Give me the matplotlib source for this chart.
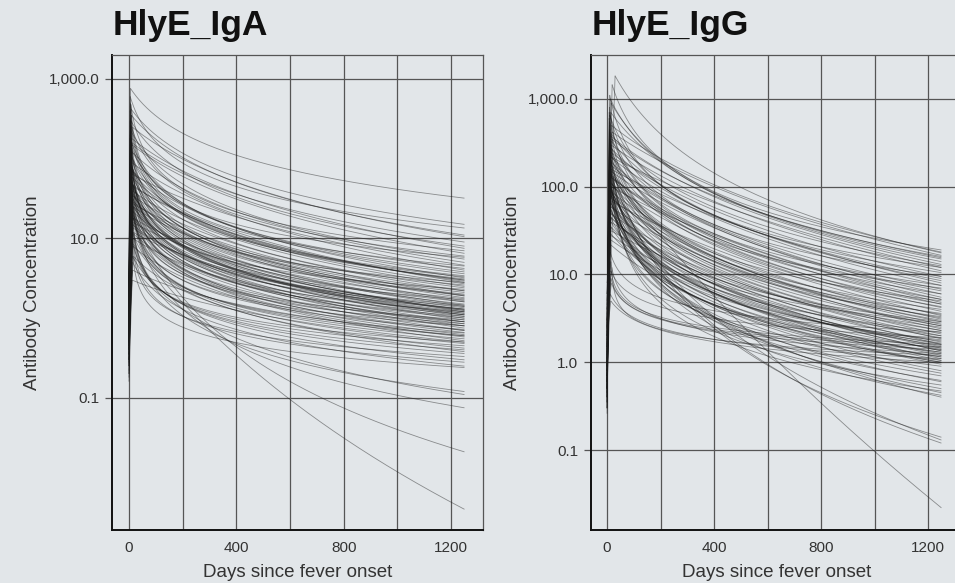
import numpy as np
import matplotlib.pyplot as plt
from matplotlib.ticker import FixedLocator, FuncFormatter

plt.rcParams['font.family'] = ['Liberation Sans', 'DejaVu Sans']

BG = '#e2e6e9'
GRID = '#555555'
T_END = 1250

# per-subject response curves: start level, day of peak, peak level,
# level at day 1250 and decay shape (r of the power-law decay)
iga_start = [2.0, 1.5, 3.0, 0.8, 1.2, 0.5, 2.5, 1.0, 0.6, 1.8, 0.4, 2.2, 0.9, 0.3, 1.4,
             0.7, 0.5, 1.1, 2.8, 0.25, 0.6, 1.6, 0.35, 0.8, 4.0, 0.45, 1.3, 0.2, 0.9, 0.55,
             2.0, 0.3, 1.7, 0.65, 0.4, 1.0, 0.75, 1.5, 0.18, 3.2, 0.5, 0.85, 0.28, 1.2, 0.6,
             0.35, 2.4, 0.42, 0.7, 0.22, 1.1, 0.5, 0.3, 1.9, 0.65, 0.9, 0.2, 1.4, 0.4, 0.55,
             0.8, 0.25, 0.45, 0.16, 1.0, 0.6, 0.3, 0.9, 0.4, 0.5, 0.7, 1.3, 0.5, 0.9, 0.35,
             1.8, 0.6, 2.6, 0.27, 0.8, 0.45, 1.5, 0.9, 0.6, 1.0,
             1.2, 0.6, 0.9, 0.4, 1.6, 0.3, 0.7, 1.1, 0.5, 2.1, 0.8, 0.45, 1.4, 0.6, 0.35,
             1.0, 0.55, 1.7, 0.25, 0.9, 0.4, 1.3, 0.6, 0.8, 0.5]
iga_peak_day = [6, 8, 5, 9, 12, 7, 10, 6, 11, 8, 13, 5, 10, 9, 7,
                12, 8, 14, 6, 9, 11, 7, 10, 15, 5, 8, 12, 16, 6, 10,
                9, 13, 5, 8, 11, 14, 7, 9, 12, 6, 10, 8, 13, 6, 9,
                15, 7, 11, 6, 12, 8, 10, 14, 5, 11, 7, 13, 9, 16, 10,
                7, 12, 9, 14, 8, 10, 12, 8, 9, 10, 9, 11, 8, 7, 12,
                10, 13, 6, 9, 11, 8, 14, 12, 10, 7,
                9, 11, 8, 10, 7, 12, 9, 6, 13, 8, 10, 14, 7, 11, 9,
                8, 12, 6, 10, 9, 11, 7, 13, 8, 10]
iga_peak = [760, 420, 600, 350, 250, 300, 180, 500, 150, 220, 120, 400, 90, 160, 260,
            70, 110, 45, 200, 80, 35, 140, 60, 25, 300, 95, 50, 18, 130, 40,
            75, 22, 180, 55, 30, 12, 100, 65, 15, 240, 38, 85, 20, 150, 45,
            10, 70, 28, 120, 16, 55, 35, 8, 200, 24, 90, 12, 45, 6, 30,
            65, 9, 20, 5, 40, 14, 6, 25, 20, 9, 60, 40, 28, 150, 50,
            110, 32, 90, 14, 75, 26, 4, 3, 350, 480,
            130, 70, 45, 100, 200, 35, 55, 80, 25, 260, 160, 18, 120, 48, 30,
            90, 22, 320, 12, 65, 38, 140, 16, 110, 28]
iga_end = [32, 15, 13.5, 11, 10.5, 8, 7.5, 7, 6.5, 5.5, 5, 4.5, 4, 3.6, 3.4,
           3.2, 3.0, 2.8, 2.6, 2.4, 2.2, 2.0, 1.9, 1.8, 1.7, 1.6, 1.5, 1.45, 1.4, 1.35,
           1.3, 1.25, 1.2, 1.15, 1.1, 1.1, 1.05, 1.0, 1.0, 0.95, 0.9, 0.9, 0.85, 0.8, 0.8,
           0.75, 0.72, 0.7, 0.65, 0.62, 0.6, 0.55, 0.52, 0.5, 0.48, 0.45, 0.42, 0.4, 0.38, 0.36,
           0.33, 0.3, 0.28, 0.25, 0.24, 0.12, 0.11, 0.075, 0.021, 0.004, 3.0, 2.5, 1.9, 4.2, 1.2,
           1.3, 1.15, 2.1, 0.95, 1.75, 0.66, 0.6, 0.5, 2.3, 5.8,
           3.8, 2.7, 1.6, 2.2, 3.3, 1.4, 1.25, 1.1, 1.05, 6.0, 9.0, 0.8, 0.85, 2.9, 1.65,
           1.95, 0.58, 2.8, 0.7, 4.6, 1.28, 1.45, 1.2, 3.1, 0.9]
iga_shape = [1.8, 1.7, 1.9, 1.6, 1.5, 1.7, 1.5, 2.0, 1.5, 1.7, 1.6, 2.1, 1.5, 1.8, 2.0,
             1.6, 1.8, 1.5, 2.1, 1.8, 1.6, 2.0, 1.8, 1.6, 2.3, 2.0, 1.9, 1.6, 2.2, 1.9,
             2.0, 1.7, 2.3, 2.0, 1.8, 1.6, 2.2, 2.1, 1.7, 2.4, 2.0, 2.2, 1.8, 2.4, 2.1,
             1.6, 2.3, 2.0, 2.4, 1.9, 2.3, 2.2, 1.7, 2.6, 2.1, 2.5, 2.0, 2.4, 1.8, 2.3,
             2.6, 2.1, 2.4, 2.0, 2.6, 1.8, 1.6, 1.6, 1.3, 1.12, 1.7, 1.6, 1.5, 1.9, 1.9,
             2.2, 1.8, 1.9, 1.6, 2.0, 1.9, 1.9, 1.8, 2.5, 2.2,
             1.8, 1.7, 1.7, 1.9, 2.0, 1.7, 1.9, 2.1, 1.7, 1.9, 1.6, 1.7, 2.3, 1.6, 1.6,
             2.0, 1.9, 2.3, 1.7, 1.5, 1.8, 2.2, 1.5, 1.9, 1.8]

igg_start = [3.0, 2.0, 1.5, 4.0, 0.8, 2.5, 1.2, 0.6, 5.0, 1.0, 3.5, 0.7, 1.8, 0.5, 2.2,
             0.9, 0.4, 1.4, 0.6, 2.8, 1.1, 0.35, 1.6, 0.8, 0.5, 2.0, 0.3, 1.3, 0.7, 4.5,
             0.45, 1.0, 0.6, 2.4, 0.9, 0.3, 1.7, 0.55, 0.8, 1.2, 0.4, 3.0, 0.65, 1.5, 0.5,
             0.9, 0.26, 2.0, 0.7, 1.1, 0.4, 0.8, 1.6, 0.5, 6.0, 0.9, 0.35, 1.3, 0.6, 2.2,
             0.45, 1.0, 0.3, 0.7, 1.4, 0.5, 0.8, 2.5, 0.6, 0.4, 1.2, 0.5, 3.0, 1.5, 4.0,
             2.0, 6.0, 2.5, 8.0, 1.0, 0.9, 1.8, 0.6, 1.1, 2.6,
             0.8, 1.2, 0.5, 2.0, 0.7, 0.4, 1.5, 0.6, 0.9, 3.0, 0.5, 1.1, 0.35, 2.4, 0.7,
             1.3, 0.45, 0.9, 1.8, 0.6, 4.0, 0.55, 1.0, 0.3, 1.6]
igg_peak_day = [30, 19, 12, 15, 14, 10, 16, 18, 12, 14, 10, 12, 15, 11, 9,
                13, 10, 12, 14, 11, 8, 12, 16, 10, 13, 9, 12, 11, 14, 10,
                12, 10, 13, 9, 15, 11, 12, 10, 14, 11, 9, 12, 13, 10, 12,
                15, 10, 11, 13, 12, 10, 14, 11, 12, 9, 13, 10, 12, 11, 10,
                12, 13, 10, 11, 12, 14, 10, 12, 12, 14, 10, 25, 15, 12, 18,
                14, 10, 16, 12, 14, 12, 15, 11, 13, 9,
                12, 14, 11, 10, 13, 12, 9, 15, 11, 10, 13, 12, 14, 8, 12,
                16, 11, 13, 10, 12, 14, 11, 13, 12, 10]
igg_peak = [1830, 1450, 1000, 900, 700, 1100, 500, 420, 380, 300, 650, 250, 330, 220, 800,
            280, 180, 400, 150, 240, 600, 130, 200, 350, 110, 170, 260, 90, 140, 450,
            75, 120, 200, 60, 95, 300, 50, 160, 80, 40, 230, 65, 130, 32, 100,
            45, 180, 70, 28, 120, 55, 35, 90, 25, 150, 40, 60, 22, 110, 30,
            75, 45, 160, 90, 250, 55, 120, 35, 200, 90, 150, 120, 9, 6, 12,
            5, 15, 8, 18, 11, 160, 100, 70, 220, 500,
            280, 190, 140, 320, 110, 80, 240, 60, 170, 420, 130, 95, 50, 700, 210,
            350, 70, 150, 100, 260, 14, 120, 85, 45, 550]
igg_end = [17.6, 19, 16, 15, 14, 12, 18, 16.5, 13, 11, 10.5, 9.5, 8.5, 7.5, 7,
           6.5, 6, 6, 5.5, 5.2, 5, 4.6, 4.3, 4, 3.8, 3.5, 3.3, 3.1, 3.0, 2.9,
           2.7, 2.6, 2.5, 2.4, 2.3, 2.2, 2.1, 2.0, 1.9, 1.85, 1.8, 1.7, 1.65, 1.6, 1.55,
           1.5, 1.45, 1.4, 1.35, 1.3, 1.25, 1.2, 1.15, 1.1, 1.05, 1.0, 1.0, 0.95, 0.9, 0.8,
           0.7, 0.6, 0.55, 0.5, 0.47, 0.45, 0.42, 0.4, 0.14, 0.13, 0.12, 0.022, 1.5, 1.1, 1.2,
           1.0, 1.6, 1.4, 2.2, 1.9, 8, 4.8, 3.4, 12, 2.8,
           9, 6.8, 4.2, 3.6, 2.9, 2.0, 1.75, 1.45, 1.3, 12.5, 5.2, 1.15, 1.05, 9.5, 2.3,
           15.5, 0.75, 3.2, 1.6, 4.6, 1.25, 0.62, 2.6, 1.35, 7.5]
igg_shape = [1.45, 1.7, 1.6, 1.55, 1.5, 1.8, 1.4, 1.35, 1.4, 1.35, 1.7, 1.4, 1.5, 1.4, 1.9,
             1.55, 1.4, 1.7, 1.35, 1.6, 1.9, 1.4, 1.6, 1.8, 1.4, 1.6, 1.8, 1.4, 1.6, 2.0,
             1.4, 1.6, 1.8, 1.35, 1.55, 2.0, 1.4, 1.8, 1.6, 1.35, 2.0, 1.55, 1.8, 1.3, 1.7,
             1.5, 2.0, 1.7, 1.4, 1.9, 1.6, 1.5, 1.8, 1.4, 2.0, 1.6, 1.7, 1.5, 1.9, 1.5,
             1.7, 1.55, 1.8, 1.6, 1.8, 1.5, 1.6, 1.4, 1.35, 1.25, 1.3, 1.05, 3.5, 3.2, 3.8,
             3.0, 3.6, 3.3, 3.0, 3.2, 1.3, 1.3, 1.3, 1.3, 2.1,
             1.5, 1.45, 1.45, 1.8, 1.5, 1.5, 1.9, 1.5, 1.8, 1.6, 1.4, 1.7, 1.5, 1.8, 1.7,
             1.45, 1.6, 1.6, 1.65, 1.6, 3.0, 1.7, 1.5, 1.45, 1.8]

iga_ticks = [0.1, 10, 1000]
igg_ticks = [0.1, 1, 10, 100, 1000]
day_ticks = [0, 400, 800, 1200]
day_grid = [0, 200, 400, 600, 800, 1000, 1200]

days = np.concatenate([np.linspace(0, 40, 161), np.linspace(40.5, T_END, 500)])


def response(t, y0, t1, y1, yT, r):
    y = np.empty_like(t)
    up = t < t1
    y[up] = y0 * (y1 / y0) ** (t[up] / t1)
    s = (t[~up] - t1) / (T_END - t1)
    a = y1 ** (1 - r)
    b = yT ** (1 - r)
    y[~up] = (a + (b - a) * s) ** (1 / (1 - r))
    return y


fig = plt.figure(figsize=(9.55, 5.83), dpi=100)
fig.patch.set_facecolor(BG)

panels = [
    ('HlyE_IgA', [112, 55, 483, 530], (-63, 1319), (0.0022, 2000), iga_ticks,
     (iga_start, iga_peak_day, iga_peak, iga_end, iga_shape)),
    ('HlyE_IgG', [591, 55, 962, 530], (-60, 1327), (0.0123, 3160), igg_ticks,
     (igg_start, igg_peak_day, igg_peak, igg_end, igg_shape)),
]

W, H = 955, 583
for title, (x0, y0, x1, y1), xlim, ylim, yticks, params in panels:
    ax = fig.add_axes([x0 / W, 1 - y1 / H, (x1 - x0) / W, (y1 - y0) / H])
    ax.set_facecolor(BG)
    ax.set_yscale('log')
    ax.set_xlim(*xlim)
    ax.set_ylim(*ylim)

    for s0, pd, pk, en, sh in zip(*params):
        ax.plot(days, response(days, s0, pd, pk, en, sh), color='#1a1a1a',
                lw=0.6, alpha=0.45, solid_capstyle='butt')

    ax.xaxis.set_major_locator(FixedLocator(day_ticks))
    ax.xaxis.set_minor_locator(FixedLocator(day_grid))
    ax.yaxis.set_major_locator(FixedLocator(yticks))
    ax.yaxis.set_minor_locator(FixedLocator([]))
    ax.yaxis.set_major_formatter(FuncFormatter(lambda v, p: f'{v:,.1f}'))
    ax.grid(True, which='both', axis='x', color=GRID, lw=0.9)
    ax.grid(True, which='major', axis='y', color=GRID, lw=0.9)
    ax.set_axisbelow(True)
    ax.tick_params(axis='x', which='both', length=0, pad=8, labelsize=11, labelcolor='#333333')
    ax.tick_params(axis='y', length=5, width=0.9, color=GRID, pad=4, labelsize=11,
                   labelcolor='#333333')
    for side in ('left', 'bottom'):
        ax.spines[side].set_color('#111111')
        ax.spines[side].set_linewidth(1.4)
    for side in ('top', 'right'):
        ax.spines[side].set_color(GRID)
        ax.spines[side].set_linewidth(0.9)

    fig.text((x0 + 1) / W, 1 - 35 / H, title, fontsize=25.5, fontweight='bold',
             color='#111111', va='baseline', ha='left')
    fig.text((x0 + x1) / 2 / W, 1 - 577 / H, 'Days since fever onset', fontsize=13.5,
             color='#333333', ha='center', va='baseline')
    fig.text((x0 - 79) / W, 1 - (y0 + y1) / 2 / H, 'Antibody Concentration', fontsize=13.5,
             color='#333333', rotation=90, ha='center', va='center')

fig.savefig('out.png', dpi=100, facecolor=BG)
